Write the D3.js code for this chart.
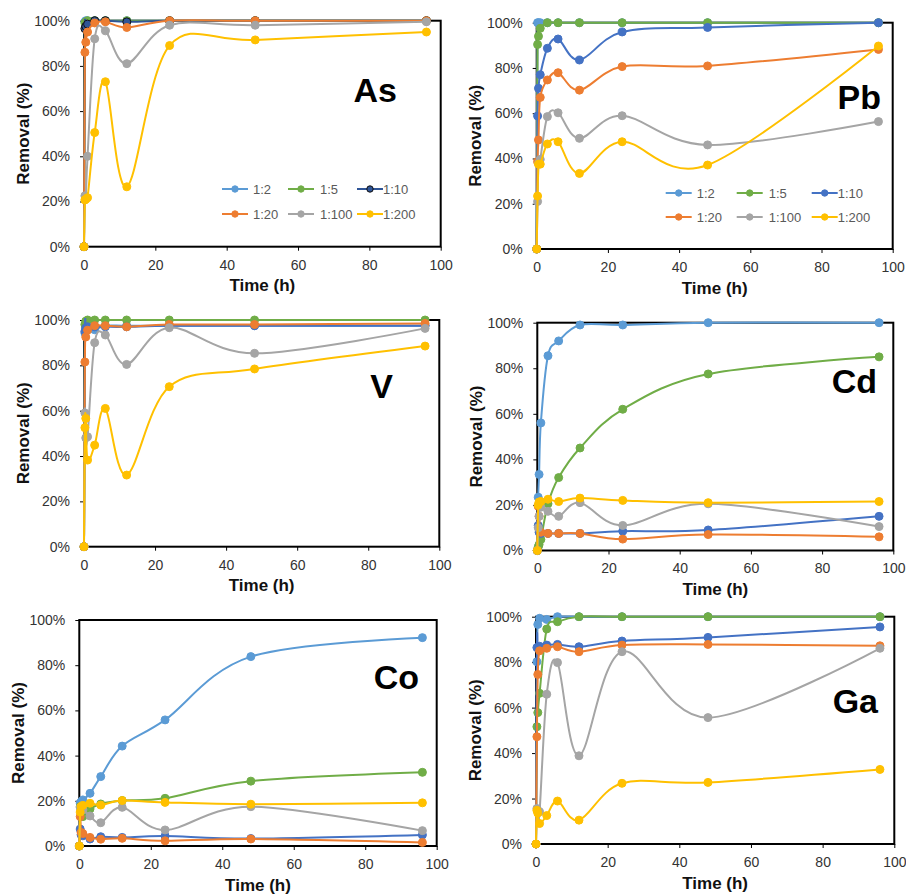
<!DOCTYPE html>
<html>
<head>
<meta charset="utf-8">
<script src="https://cdn.jsdelivr.net/npm/d3@7"></script>
<style>
  html, body { margin: 0; padding: 0; background: #fff; }
  svg { display: block; font-family: "Liberation Sans", Arial, sans-serif; }
</style>
</head>
<body>
<svg id="chart" width="906" height="896"></svg>
<script>
// ---------- data ----------
const times = [0, 0.25, 0.5, 1, 3, 6, 12, 24, 48, 96];
const ratios = ["1:2", "1:5", "1:10", "1:20", "1:100", "1:200"];
const xTicks = [0, 20, 40, 60, 80, 100];
const yTicks = [0, 20, 40, 60, 80, 100];
const elements = ["As", "Pb", "V", "Cd", "Co", "Ga"];

// removal (%) per ratio, in order of `ratios`, at `times`
const As = [
  [0, 99.5, 100, 100, 100, 100, 100, 100, 100, 100],
  [0, 99, 99.5, 100, 100, 100, 100, 100, 100, 100],
  [0, 96.5, 97.5, 98.5, 100, 100, 99.5, 100, 100, 100],
  [0, 86, 90.5, 95, 99, 99.5, 97, 100, 100, 100],
  [0, 22.5, 22, 40, 92, 95.5, 81, 98, 98, 99.5],
  [0, 20.7, 21, 21.7, 50.5, 73, 26.5, 89, 91.5, 95]
];
const Pb = [
  [0, 100, 100, 100, 100, 100, 100, 100, 100, 100],
  [0, 90.4, 94, 97.5, 100, 100, 100, 100, 100, 100],
  [0, 58.8, 71, 77, 88.7, 92.8, 83.5, 95.9, 97.9, 100],
  [0, 38.6, 48.2, 67, 74.7, 77.9, 70.2, 80.6, 80.9, 88.2],
  [0, 21, 37.8, 39.6, 58.5, 60.2, 48.9, 58.9, 46, 56.3],
  [0, 23.4, 37.5, 37.5, 46.4, 47.4, 33.4, 47.4, 37.1, 89.7]
];
const V = [
  [0, 94.3, 96.5, 97, 95.7, 97.5, 97.5, 97.5, 97.5, 97.5],
  [0, 98, 99.5, 100, 100, 100, 100, 100, 100, 100],
  [0, 95, 96.5, 97, 97, 97, 97, 97.5, 97.5, 97.5],
  [0, 81.5, 92.5, 95.5, 97.5, 97.5, 97, 98, 98, 98.5],
  [0, 59, 48, 48.5, 90, 93.4, 80.4, 96.6, 85.3, 96.3],
  [0, 52.5, 56.6, 38.2, 44.8, 61, 31.6, 70.6, 78.4, 88.5]
];
const Cd = [
  [0, 23.4, 33.4, 56, 85.5, 92, 99, 99, 100, 100],
  [0, 1.5, 2.6, 4.8, 20.5, 32, 45, 62, 77.5, 85],
  [0, 11, 8, 7.5, 7.5, 7.5, 7.5, 8.5, 9, 15],
  [0, 19.4, 15, 8, 7.5, 7.5, 7.5, 5, 7, 6],
  [0, 10, 15, 19, 17.2, 15, 21, 11, 20.5, 10.5],
  [0, 20, 21.3, 21.5, 22.5, 21.5, 23, 22, 21, 21.5]
];
const Co = [
  [0, 19, 19.5, 20.4, 23.3, 30.7, 44.2, 55.8, 83.8, 92.2],
  [0, 17.4, 15.5, 13, 16.4, 18.6, 20.1, 21.1, 28.7, 32.6],
  [0, 7.5, 5, 4.5, 3.1, 4.1, 3.8, 4.4, 3.3, 4.9],
  [0, 13, 6, 5.5, 3.8, 3, 3.4, 2.3, 3.1, 1.6],
  [0, 17, 16.5, 16, 13.3, 10.3, 17.1, 7.1, 17.4, 6.8],
  [0, 15, 17.5, 18, 18.9, 18.1, 20.1, 19.3, 18.5, 19.1]
];
const Ga = [
  [0, 80.2, 96.6, 99.3, 98.8, 100, 100, 100, 100, 100],
  [0, 51.6, 57.8, 66.3, 94.6, 97.8, 100, 100, 100, 100],
  [0, 86.4, 86.5, 87, 87.5, 87.8, 86.8, 89.3, 90.9, 95.5],
  [0, 47.2, 74.6, 85, 86.1, 86.8, 84.6, 87.5, 87.8, 87.2],
  [0, 15.6, 14.8, 14.2, 65.9, 79.8, 38.8, 84.6, 55.6, 86.1],
  [0, 14.8, 13.6, 9, 12.5, 18.9, 10.5, 26.7, 27.1, 32.8]
];
const dataByElement = { As, Pb, V, Cd, Co, Ga };

// ---------- styles / layout ----------
const colors = ["#5B9BD5", "#70AD47", "#4472C4", "#ED7D31", "#A5A5A5", "#FFC000"];

const panels = [
  { el: "As", l: 84,    r: 440.7, t: 20.7,  b: 246.7, lx: 397, ly: 102, legend: { rows: [189, 214], cols: [138, 204, 273] }, darkTen: true },
  { el: "Pb", l: 536.7, r: 892.7, t: 22.7,  b: 249,   lx: 881, ly: 109, legend: { rows: [193, 217], cols: [129, 200, 275] } },
  { el: "V",  l: 84,    r: 439.3, t: 320,   b: 546.7, lx: 393, ly: 398 },
  { el: "Cd", l: 537.3, r: 893.3, t: 322.7, b: 550.5, lx: 877, ly: 393 },
  { el: "Co", l: 79.3,  r: 436.7, t: 620,   b: 846,   lx: 419, ly: 689 },
  { el: "Ga", l: 536,   r: 894.3, t: 616.7, b: 844,   lx: 878, ly: 713 }
];

const svg = d3.select("#chart");
const defs = svg.append("defs");

panels.forEach((p, pi) => {
  const x = d3.scaleLinear().domain([0, 100]).range([p.l, p.r]);
  const y = d3.scaleLinear().domain([0, 100]).range([p.b, p.t]);
  const g = svg.append("g");

  // axes (ticks + labels)
  const xa = g.append("g")
    .attr("transform", `translate(0,${p.b})`)
    .call(d3.axisBottom(x).tickValues(xTicks).tickSize(4).tickSizeOuter(0).tickPadding(9));
  const ya = g.append("g")
    .attr("transform", `translate(${p.l},0)`)
    .call(d3.axisLeft(y).tickValues(yTicks).tickFormat(d => d + "%").tickSize(4).tickSizeOuter(0).tickPadding(10));
  [xa, ya].forEach(a => {
    a.select(".domain").remove();
    a.selectAll(".tick line").attr("stroke", "#000").attr("stroke-width", 1);
    a.selectAll(".tick text").attr("fill", "#333").style("font-size", "14px")
      .style("font-family", '"Liberation Sans", Arial, sans-serif');
  });

  // frame
  g.append("rect")
    .attr("x", p.l).attr("y", p.t)
    .attr("width", p.r - p.l).attr("height", p.b - p.t)
    .attr("fill", "none").attr("stroke", "#000").attr("stroke-width", 2);

  // axis titles
  g.append("text")
    .attr("x", (p.l + p.r) / 2).attr("y", p.b + 39)
    .attr("text-anchor", "middle").attr("dominant-baseline", "central")
    .style("font-size", "17px").style("font-weight", "bold").attr("fill", "#111")
    .text("Time (h)");
  g.append("text")
    .attr("transform", `translate(${p.l - 61},${(p.t + p.b) / 2}) rotate(-90)`)
    .attr("text-anchor", "middle").attr("dominant-baseline", "central")
    .style("font-size", "17px").style("font-weight", "bold").attr("fill", "#111")
    .text("Removal (%)");

  // element label
  g.append("text")
    .attr("x", p.lx).attr("y", p.ly)
    .attr("text-anchor", "end")
    .style("font-size", "34px").style("font-weight", "bold").attr("fill", "#000")
    .text(p.el);

  // clip
  const cid = "clip" + pi;
  defs.append("clipPath").attr("id", cid)
    .append("rect").attr("x", p.l - 2).attr("y", p.t - 2)
    .attr("width", p.r - p.l + 4).attr("height", p.b - p.t + 4);

  const line = d3.line()
    .x((d, i) => x(times[i]))
    .y(d => y(d))
    .curve(d3.curveCardinal.tension(0));

  const series = dataByElement[p.el];
  series.forEach((vals, si) => {
    const col = (p.darkTen && si === 2) ? "#2F5597" : colors[si];
    const mStroke = (p.darkTen && si === 2) ? "#111" : colors[si];
    g.append("path")
      .datum(vals)
      .attr("clip-path", `url(#${cid})`)
      .attr("d", line)
      .attr("fill", "none")
      .attr("stroke", col)
      .attr("stroke-width", 2);
    g.append("g").selectAll("circle")
      .data(vals)
      .join("circle")
      .attr("cx", (d, i) => x(times[i]))
      .attr("cy", d => y(d))
      .attr("r", 4)
      .attr("fill", col)
      .attr("stroke", mStroke)
      .attr("stroke-width", 1);
  });

  // legend
  if (p.legend) {
    const textOff = [31, 32, 26];
    ratios.forEach((name, si) => {
      const row = Math.floor(si / 3), colI = si % 3;
      const lx0 = p.l + p.legend.cols[colI];
      const ly0 = p.legend.rows[row];
      const col = (p.darkTen && si === 2) ? "#2F5597" : colors[si];
      const mStroke = (p.darkTen && si === 2) ? "#111" : colors[si];
      const lg = g.append("g");
      lg.append("line")
        .attr("x1", lx0).attr("x2", lx0 + 26)
        .attr("y1", ly0).attr("y2", ly0)
        .attr("stroke", col).attr("stroke-width", 2);
      lg.append("circle")
        .attr("cx", lx0 + 13).attr("cy", ly0).attr("r", 3.2)
        .attr("fill", col).attr("stroke", mStroke).attr("stroke-width", 1);
      lg.append("text")
        .attr("x", lx0 + textOff[colI]).attr("y", ly0)
        .attr("dominant-baseline", "central")
        .style("font-size", "13px").attr("fill", "#595959")
        .text(name);
    });
  }
});
</script>
</body>
</html>
